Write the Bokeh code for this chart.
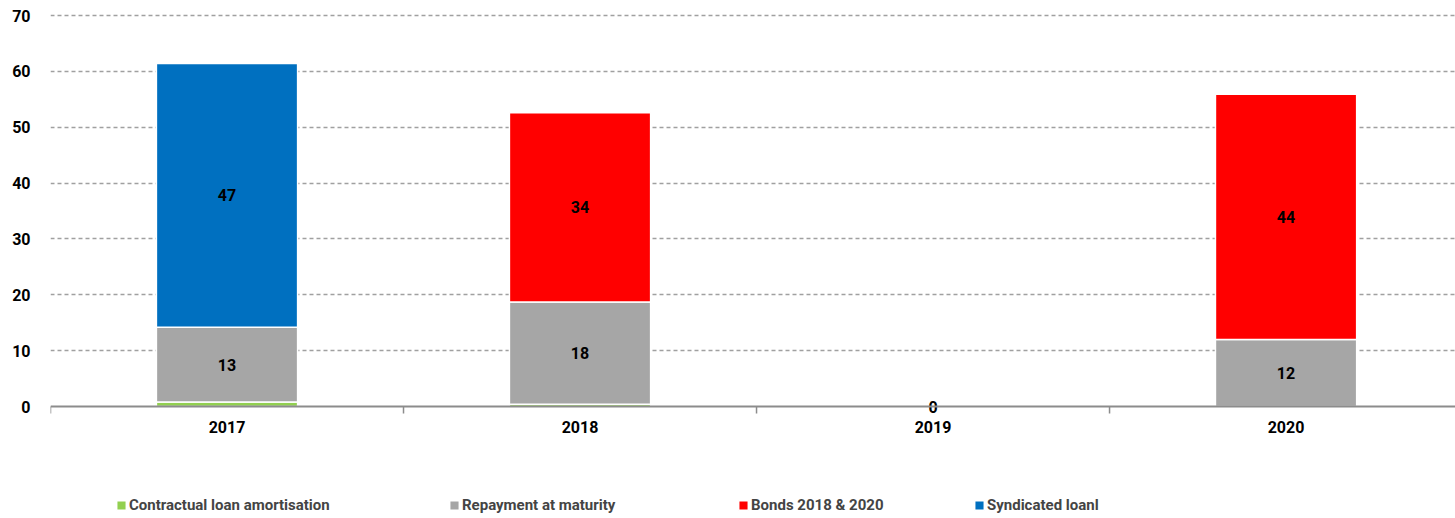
import math
from bokeh.plotting import figure
from bokeh.models import (ColumnDataSource, Range1d, FixedTicker, Legend, LegendItem, Span)
from bokeh.core.properties import value
from bokeh.embed import file_html
from bokeh.resources import INLINE

categories = ["2017", "2018", "2019", "2020"]
series_names = ["Contractual loan amortisation", "Repayment at maturity", "Bonds 2018 & 2020", "Syndicated loanl"]
amortisation = [0.8, 0.4, 0.0, 0.0]
repayment = [13.4, 18.3, 0.0, 12.0]
bonds = [0.0, 33.9, 0.0, 43.9]
syndicated = [47.2, 0.0, 0.0, 0.0]
colors = ["#92d050", "#a6a6a6", "#ff0000", "#0070c0"]
y_ticks = [0, 10, 20, 30, 40, 50, 60, 70]

FONT = "Roboto"
AXIS_COLOR = "#8c8c8c"

xs = [i + 0.5 for i in range(len(categories))]
boundaries = list(range(len(categories) + 1))

# frame spans the full lower area so the category labels and legend can sit inside it
p = figure(width=1455, height=518, output_backend="svg", toolbar_location=None,
           x_range=Range1d(0, 3.98), y_range=Range1d(-20.05, 70.36),
           min_border_left=50, min_border_right=0, min_border_top=13, min_border_bottom=0)
p.outline_line_color = None
p.xaxis.visible = False

series = [amortisation, repayment, bonds, syndicated]
bottoms = [0.0] * len(categories)
renderers = []
lab_x, lab_y, lab_t = [], [], []
for k, vals in enumerate(series):
    bx, bb, bt = [], [], []
    for i, v in enumerate(vals):
        if v > 0:
            bx.append(xs[i]); bb.append(bottoms[i]); bt.append(bottoms[i] + v)
            if k > 0:
                lab_x.append(xs[i]); lab_y.append(bottoms[i] + v / 2); lab_t.append(str(int(round(v))))
        bottoms[i] += v
    src = ColumnDataSource(dict(x=bx, bottom=bb, top=bt))
    r = p.vbar(x="x", bottom="bottom", top="top", width=0.4, source=src,
               fill_color=colors[k], line_color="white", line_width=1.5)
    renderers.append(r)

# category axis line, separator ticks and labels
p.add_layout(Span(location=0, dimension="width", line_color=AXIS_COLOR, line_width=2))
p.ray(x=boundaries, y=[0] * len(boundaries), length=7, length_units="screen",
      angle=-math.pi / 2, line_color=AXIS_COLOR, line_width=1.5)
p.text(x=xs, y=[0] * len(xs), text=categories, y_offset=20, text_font=value(FONT),
       text_font_style="bold", text_font_size="16px", text_align="center",
       text_baseline="middle", text_color="black")

# zero-total categories get a "0" label at the baseline
for i, c in enumerate(categories):
    if bottoms[i] == 0:
        lab_x.append(xs[i]); lab_y.append(0); lab_t.append("0")

p.text(x=lab_x, y=lab_y, text=lab_t, text_font=value(FONT), text_font_style="bold",
       text_font_size="16px", text_align="center", text_baseline="middle", text_color="black")

p.yaxis.ticker = FixedTicker(ticks=y_ticks)
p.yaxis.axis_line_color = None
p.yaxis.major_tick_line_color = None
p.yaxis.minor_tick_line_color = None
p.yaxis.major_label_text_font = FONT
p.yaxis.major_label_text_font_style = "bold"
p.yaxis.major_label_text_font_size = "16px"
p.yaxis.major_label_text_color = "black"
p.yaxis.major_label_standoff = 14

p.xgrid.grid_line_color = None
p.ygrid.ticker = FixedTicker(ticks=y_ticks[1:])
p.ygrid.grid_line_color = "#a0a0a0"
p.ygrid.grid_line_dash = "4 3"
p.ygrid.grid_line_width = 1.5

legend_x = [65, 398, 687, 923]
for name, r, lx in zip(series_names, renderers, legend_x):
    lg = Legend(items=[LegendItem(label=name, renderers=[r])],
                orientation="horizontal", location=(lx, 4),
                glyph_width=12, glyph_height=12, label_standoff=2, padding=0, margin=0,
                border_line_color=None, background_fill_alpha=0,
                label_text_font=FONT, label_text_font_style="bold", label_text_font_size="15px",
                label_height=16)
    p.add_layout(lg, "center")

open("out.html", "w").write(file_html(p, INLINE))
